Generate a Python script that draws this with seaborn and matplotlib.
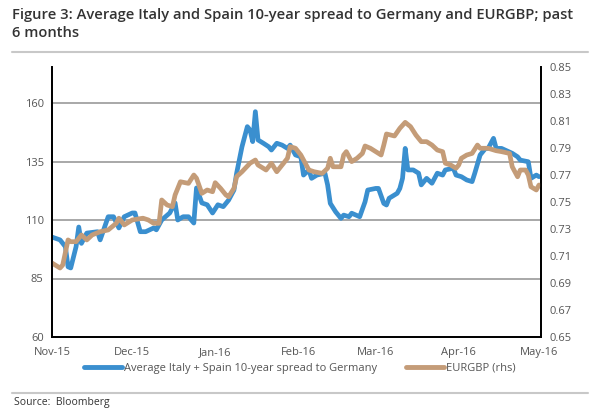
import matplotlib
matplotlib.use("Agg")
import matplotlib.pyplot as plt
import matplotlib.dates as mdates
from matplotlib.lines import Line2D
import seaborn as sns
import pandas as pd

# ---- data ----
spread_dates = [
    "2015-11-01","2015-11-04","2015-11-06","2015-11-07","2015-11-08","2015-11-10","2015-11-11","2015-11-12",
    "2015-11-14","2015-11-18","2015-11-19","2015-11-22","2015-11-24","2015-11-26","2015-11-28","2015-12-01",
    "2015-12-02","2015-12-04","2015-12-06","2015-12-09","2015-12-10","2015-12-12","2015-12-15","2015-12-17",
    "2015-12-18","2015-12-20","2015-12-22","2015-12-24","2015-12-25","2015-12-27","2015-12-29","2015-12-31",
    "2016-01-02","2016-01-04","2016-01-06","2016-01-08","2016-01-09","2016-01-11","2016-01-13","2016-01-14",
    "2016-01-15","2016-01-16","2016-01-17","2016-01-19","2016-01-21","2016-01-22","2016-01-24","2016-01-26",
    "2016-01-28","2016-01-29","2016-01-31","2016-02-02","2016-02-03","2016-02-05","2016-02-06","2016-02-08",
    "2016-02-11","2016-02-12","2016-02-13","2016-02-15","2016-02-17","2016-02-18","2016-02-20","2016-02-21",
    "2016-02-24","2016-02-26","2016-02-27","2016-03-01","2016-03-02","2016-03-04","2016-03-05","2016-03-06",
    "2016-03-09","2016-03-10","2016-03-11","2016-03-12","2016-03-13","2016-03-15","2016-03-17","2016-03-18",
    "2016-03-20","2016-03-22","2016-03-24","2016-03-26","2016-03-27","2016-03-30","2016-03-31","2016-04-02",
    "2016-04-04","2016-04-06","2016-04-07","2016-04-09","2016-04-11","2016-04-12","2016-04-14","2016-04-15",
    "2016-04-17","2016-04-21","2016-04-23","2016-04-24","2016-04-27","2016-04-28","2016-04-30","2016-05-01",
]
spread_values = [
    102.7, 101.5, 98.6, 90.0, 89.5, 98.6, 107.0, 100.0,
    104.4, 105.0, 101.5, 111.4, 111.4, 106.6, 111.4, 113.0,
    113.0, 105.0, 105.0, 106.6, 105.8, 110.0, 113.0, 117.3,
    110.0, 111.4, 111.4, 108.7, 123.7, 117.3, 116.5, 113.0,
    116.5, 115.7, 118.5, 122.8, 130.0, 141.3, 149.9, 148.5,
    143.5, 156.3, 144.2, 142.8, 141.3, 139.9, 142.8, 142.0,
    140.6, 142.0, 137.8, 137.0, 129.2, 131.4, 127.8, 129.2,
    130.0, 125.0, 117.1, 113.5, 110.7, 112.1, 111.4, 112.9,
    111.4, 117.8, 122.8, 123.5, 123.5, 117.1, 116.4, 119.3,
    121.4, 123.5, 127.8, 140.6, 131.4, 131.4, 130.0, 125.0,
    127.8, 125.7, 130.0, 129.2, 131.4, 132.1, 129.2, 128.5,
    127.1, 126.4, 130.0, 137.8, 140.6, 140.6, 144.9, 140.6,
    140.6, 138.5, 137.0, 135.6, 134.9, 127.8, 129.2, 128.5,
]

eurgbp_dates = [
    "2015-11-01","2015-11-04","2015-11-05","2015-11-07","2015-11-08","2015-11-10","2015-11-12","2015-11-14",
    "2015-11-16","2015-11-19","2015-11-22","2015-11-25","2015-11-26","2015-11-28","2015-12-01","2015-12-05",
    "2015-12-07","2015-12-09","2015-12-11","2015-12-12","2015-12-14","2015-12-16","2015-12-17","2015-12-19",
    "2015-12-22","2015-12-24","2015-12-25","2015-12-27","2015-12-29","2015-12-31","2016-01-01","2016-01-03",
    "2016-01-05","2016-01-06","2016-01-08","2016-01-09","2016-01-11","2016-01-14","2016-01-16","2016-01-17",
    "2016-01-20","2016-01-22","2016-01-24","2016-01-26","2016-01-28","2016-01-29","2016-01-31","2016-02-02",
    "2016-02-03","2016-02-05","2016-02-07","2016-02-10","2016-02-12","2016-02-13","2016-02-14","2016-02-17",
    "2016-02-18","2016-02-19","2016-02-21","2016-02-23","2016-02-25","2016-02-26","2016-02-28","2016-03-01",
    "2016-03-03","2016-03-04","2016-03-05","2016-03-08","2016-03-10","2016-03-12","2016-03-14","2016-03-16",
    "2016-03-18","2016-03-20","2016-03-22","2016-03-24","2016-03-26","2016-03-27","2016-03-29","2016-03-31",
    "2016-04-01","2016-04-02","2016-04-04","2016-04-06","2016-04-08","2016-04-09","2016-04-12","2016-04-15",
    "2016-04-17","2016-04-20","2016-04-21","2016-04-23","2016-04-24","2016-04-26","2016-04-27","2016-04-28",
    "2016-04-30","2016-05-01",
]
eurgbp_values = [
    0.7048, 0.7011, 0.7033, 0.7219, 0.7206, 0.7206, 0.7256, 0.7219,
    0.7256, 0.7280, 0.7293, 0.7342, 0.7380, 0.7330, 0.7367, 0.7380,
    0.7367, 0.7342, 0.7342, 0.7515, 0.7478, 0.7465, 0.7552, 0.7650,
    0.7638, 0.7700, 0.7676, 0.7564, 0.7589, 0.7576, 0.7643, 0.7601,
    0.7552, 0.7539, 0.7601, 0.7688, 0.7724, 0.7787, 0.7811, 0.7774,
    0.7737, 0.7787, 0.7724, 0.7774, 0.7824, 0.7910, 0.7898, 0.7848,
    0.7811, 0.7737, 0.7724, 0.7712, 0.7750, 0.7824, 0.7761, 0.7761,
    0.7848, 0.7873, 0.7799, 0.7824, 0.7860, 0.7915, 0.7898, 0.7873,
    0.7848, 0.7922, 0.8004, 0.7989, 0.8046, 0.8090, 0.8058, 0.7996,
    0.7947, 0.7947, 0.7922, 0.7885, 0.7873, 0.7787, 0.7774, 0.7750,
    0.7774, 0.7824, 0.7848, 0.7860, 0.7922, 0.7898, 0.7898, 0.7880,
    0.7873, 0.7860, 0.7761, 0.7687, 0.7737, 0.7737, 0.7700, 0.7613,
    0.7589, 0.7626,
]

left_ticks = [60, 85, 110, 135, 160]
right_ticks = [0.65, 0.67, 0.69, 0.71, 0.73, 0.75, 0.77, 0.79, 0.81, 0.83, 0.85]

title_text = "Figure 3: Average Italy and Spain 10-year spread to Germany and EURGBP; past\n6 months"
legend_labels = ["Average Italy + Spain 10-year spread to Germany", "EURGBP (rhs)"]
source_text = "Source:  Bloomberg"

# ---- style ----
sns.set_style("white")
plt.rcParams["font.family"] = ["Open Sans", "DejaVu Sans"]

BLUE = "#3a8fcf"
TAN = "#c49c78"
GRID = "#9a9a9a"
TXT = "#555555"

df1 = pd.DataFrame({"date": pd.to_datetime(spread_dates), "value": spread_values})
df2 = pd.DataFrame({"date": pd.to_datetime(eurgbp_dates), "value": eurgbp_values})

fig = plt.figure(figsize=(6.0, 4.12), dpi=100)
L, R, T, B = 52, 541, 67, 337
ax = fig.add_axes([L / 600, 1 - B / 412, (R - L) / 600, (B - T) / 412])

sns.lineplot(data=df1, x="date", y="value", ax=ax, color=BLUE, linewidth=3.4)
ax2 = ax.twinx()
sns.lineplot(data=df2, x="date", y="value", ax=ax2, color=TAN, linewidth=3.4)

ax.set_ylim(60, 60 + 25 * 270 / 58.5)
ax.set_yticks(left_ticks)
ax2.set_ylim(0.65, 0.85)
ax2.set_yticks(right_ticks)
ax2.set_yticklabels([f"{t:.2f}" for t in right_ticks])

ax.set_xlim(pd.Timestamp("2015-11-01"), pd.Timestamp("2016-05-01 18:00"))
ax.xaxis.set_major_locator(mdates.MonthLocator())
ax.xaxis.set_major_formatter(mdates.DateFormatter("%b-%y"))

for a in (ax, ax2):
    a.set_xlabel("")
    a.set_ylabel("")
    a.tick_params(length=0, labelsize=8, labelcolor=TXT, pad=6)
    a.grid(False)
    a.spines["top"].set_visible(False)
    for s in ("left", "right", "bottom"):
        a.spines[s].set_color("black")
        a.spines[s].set_linewidth(1.3)
ax.tick_params(axis="x", pad=7)

for t in left_ticks[1:]:
    ax.axhline(t, color=GRID, linewidth=1.2, zorder=0)

# title & rules
fig.text(12 / 600, 1 - 8 / 412, title_text, ha="left", va="top", fontsize=10.6,
         fontweight="semibold", color="#333333", linespacing=1.35)
fig.add_artist(Line2D([12 / 600, 588 / 600], [1 - 52 / 412, 1 - 52 / 412], color="#c8c8c8", linewidth=1.5))
fig.add_artist(Line2D([12 / 600, 588 / 600], [1 - 393 / 412, 1 - 393 / 412], color="#c8c8c8", linewidth=1.5))
fig.text(14 / 600, 1 - 402 / 412, source_text, ha="left", va="center", fontsize=7.5, color="#333333")

handles = [Line2D([], [], color=BLUE, linewidth=3.5), Line2D([], [], color=TAN, linewidth=3.5)]
fig.legend(handles, legend_labels, loc="center", bbox_to_anchor=(0.5, 1 - 368 / 412), ncol=2,
           frameon=False, fontsize=8, handlelength=3.4, handletextpad=0.2, columnspacing=2.6,
           labelcolor=TXT)

fig.savefig("out.png", dpi=100)
